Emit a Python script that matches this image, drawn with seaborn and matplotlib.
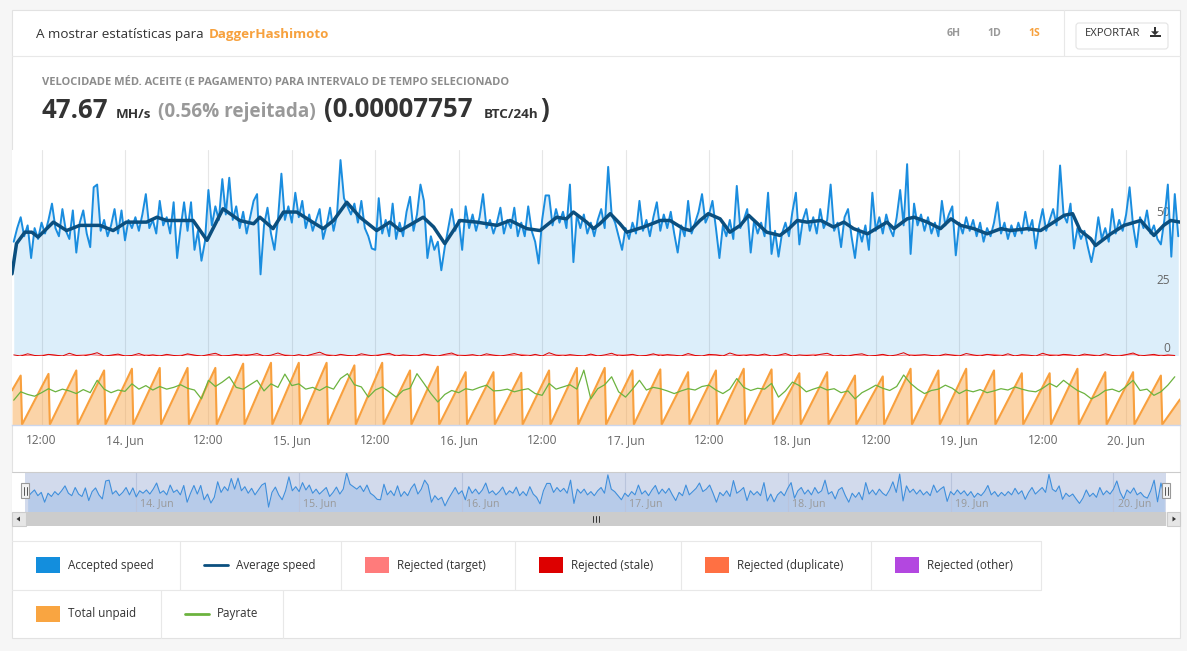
import numpy as np
import pandas as pd
import matplotlib
matplotlib.use("Agg")
import matplotlib.pyplot as plt
import seaborn as sns
from matplotlib.patches import Rectangle, FancyBboxPatch, Polygon
from matplotlib.lines import Line2D
from matplotlib.transforms import Affine2D, blended_transform_factory

# ---------------- data (hours counted from 14 Jun 00:00) ----------------
# accepted speed, MH/s, one value every 30 min starting 13 Jun 08:00
accepted_speed = [
    42, 47, 51, 44, 48, 36, 47, 43, 49, 45, 50, 56, 47, 44, 54, 46, 43, 53.5, 38, 49, 53.5, 45, 40, 62,
    63, 46, 50, 44, 48, 54, 45, 53.5, 42.5, 50, 47, 51, 46, 52, 59.5, 47, 50, 45, 57, 48, 51, 45, 56.5, 36,
    47, 56.5, 46, 56.5, 39, 46, 35, 42, 61, 48, 55, 50, 65, 52, 65.5, 50, 55, 47, 53, 45, 51, 57, 59.5, 30,
    48, 54.5, 45, 39, 50, 67, 50, 55, 49, 60, 51, 57, 47, 52, 46, 50, 54, 43, 48, 54.5, 46, 52, 72, 58,
    55, 52, 56, 49, 57, 47, 44, 39.5, 39, 58, 45, 50, 44, 56, 43, 49, 44, 53, 58.5, 46, 52, 63, 57, 36,
    44, 39, 42, 31.5, 40, 47, 54, 46, 50, 39, 55, 47, 52, 46, 51, 59.5, 47, 50, 45, 49, 54.5, 45, 50, 47,
    54.5, 44, 49, 44, 55, 46, 42, 34, 50, 59, 59, 48, 54, 49, 53, 47, 63, 34.5, 52, 47, 52, 45, 49, 44,
    50, 54, 47, 69.5, 52, 49, 44, 39, 47, 43, 49, 45, 57, 46, 50, 44, 51, 56.5, 46, 52, 47, 53, 45, 38,
    48, 44, 57, 45, 49, 53, 59.5, 49, 52, 57, 47, 36, 48, 44, 50, 43, 62.5, 47, 50, 54, 38, 50, 45, 49,
    44, 60, 37.5, 46, 36.5, 45, 49, 44, 53, 60, 41, 50, 54, 46, 51, 45, 54, 47, 50, 63, 46, 49, 40, 51,
    54, 44, 36, 47, 42, 48, 39, 60, 46, 51, 45, 52, 47, 44, 51, 61, 48, 70.5, 37.5, 56, 48, 52, 46, 51,
    45, 49, 44, 57, 48, 52, 55, 37, 49, 45, 51, 46, 50, 44, 49, 42, 47, 44, 49, 56.5, 45, 49, 43, 48,
    44, 49, 45, 53, 46, 50, 39.5, 48, 54, 46, 50, 54, 48, 70, 52, 49, 56, 39.5, 47, 43, 46, 40, 34.5, 41,
    51, 43, 47, 42, 54, 45, 50, 46, 52, 62, 48, 40, 51, 47, 53.5, 45, 48, 43, 41, 50, 63, 36.5, 59.5, 44,
]
speed_start_hour = -16

# average speed, MH/s, read at irregular hours
avg_hours = [-16.25, -15.6, -14.4, -13.4, -12.5, -10.3, -8.4, -6.5, -3.6, -1.7, 0.2, 3.1, 4.6, 6.0,
             9.8, 11.8, 14.1, 16.5, 18.5, 19.4, 21.3, 22.8, 24.7, 26.6, 28.5, 30.0, 31.9, 33.8, 36.2,
             38.1, 39.6, 42.9, 44.4, 46.0, 48.2, 50.6, 53.5, 55.4, 57.8, 59.7, 62.1, 63.5, 64.5, 66.4,
             67.4, 68.3, 69.8, 71.2, 72.2, 74.6, 77.0, 78.4, 80.3, 81.3, 82.7, 83.9, 85.6, 87.0, 88.5,
             89.7, 92.3, 94.2, 95.5, 96.7, 98.1, 100.1, 101.9, 103.4, 104.8, 106.8, 109.6, 110.6, 112.5,
             113.5, 115.4, 117.3, 118.8, 120.2, 122.1, 124.0, 126.0, 127.4, 129.8, 131.7, 133.6, 135.1,
             136.3, 137.4, 138.9, 139.6, 141.8, 143.7, 146.1, 148.0, 149.4, 150.4, 151.75]
avg_speed = [30.2, 41.3, 45.5, 45.5, 43.7, 49.2, 46.1, 48.0, 48.0, 46.1, 49.2, 49.2, 51.0, 49.8,
             49.8, 42.5, 54.1, 49.8, 48.6, 51.0, 46.8, 52.9, 52.9, 49.8, 46.8, 49.8, 56.5, 51.0, 46.1,
             49.2, 46.1, 51.0, 47.4, 41.3, 49.8, 49.2, 48.0, 49.8, 46.8, 46.1, 51.0, 50.4, 52.9, 49.2,
             46.8, 48.6, 52.3, 48.6, 45.5, 47.4, 49.8, 49.8, 46.8, 46.1, 49.8, 52.3, 50.4, 45.5, 48.0,
             51.7, 45.5, 44.3, 46.8, 49.8, 49.2, 49.8, 47.4, 49.2, 46.8, 44.9, 49.2, 46.8, 50.4,
             51.0, 49.2, 46.8, 50.4, 48.0, 46.8, 44.9, 46.8, 46.1, 46.8, 46.1, 49.2, 51.7,
             52.3, 46.1, 43.1, 40.6, 44.9, 48.0, 49.8, 44.3, 48.0, 49.8, 49.2]

# rejected (stale) hourly and rejected (target) every 2 h, MH/s
rejected_stale = [
    0.4, 0, 0.8, 0.2, 0, 0.6, 0.3, 0, 1.0, 0.2, 0, 0.5,
    1.2, 0, 0.3, 0.7, 0, 0.2, 0.9, 0, 0.4, 0, 0.6, 0.2,
    0, 0.8, 0.3, 0, 0.5, 1.0, 0, 0.2, 0.6, 0, 0.4, 0.9,
    0, 0.3, 1.1, 0.2, 0, 0.5, 0, 0.7, 1.4, 0.3, 0, 0.6,
    0.2, 0, 0.8, 0.3, 0, 0.5, 1.0, 0, 0.4, 0.2, 0, 0.7,
    0.3, 0, 0.6, 1.1, 0, 0.2, 0.5, 0, 0.8, 0.3, 0, 0.4,
    0.9, 0.2, 0, 0.6, 0, 1.2, 0.3, 0, 0.5, 0.2, 0, 0.7,
    0, 0.4, 1.0, 0, 0.3, 0.6, 0, 0.2, 0.8, 0, 0.5, 0.3,
    0, 0.9, 0.2, 0, 0.6, 0.4, 0, 1.1, 0.3, 0, 0.5, 0.2,
    0.7, 0, 0.3, 0.9, 0, 0.4, 0.2, 0, 0.6, 1.0, 0, 0.3,
    0, 0.5, 0.8, 0, 0.2, 0.6, 0, 0.4, 1.2, 0, 0.3, 0.5,
    0.2, 0, 0.7, 0.3, 0, 0.9, 0.4, 0, 0.6, 0.2, 0, 0.8,
    0, 0.5, 0.3, 0, 1.0, 0.2, 0, 0.6, 0.4, 0, 0.7, 0.3,
    0, 0.8, 0.2, 0, 0.5, 1.1, 0, 0.3, 0.6, 0, 0.4, 0.2,
]
rejected_target = [
    0.3, 0, 0.5, 0, 0.2, 0.6, 0, 0.3, 0, 0.4, 0.2, 0,
    0.5, 0, 0.3, 0, 0.6, 0.2, 0, 0.4, 0, 0.3, 0.5, 0,
    0.2, 0, 0.6, 0.3, 0, 0.4, 0, 0.5, 0.2, 0, 0.3, 0,
    0.6, 0, 0.2, 0.4, 0, 0.3, 0, 0.5, 0, 0.2, 0.6, 0,
    0.3, 0, 0.4, 0, 0.5, 0.2, 0, 0.3, 0, 0.6, 0.2, 0,
    0.4, 0, 0.3, 0, 0.5, 0, 0.2, 0.4, 0, 0.3, 0.6, 0,
    0.2, 0, 0.5, 0.3, 0, 0.4, 0, 0.2, 0.6, 0, 0.3, 0,
]

# total unpaid (satoshi): value at the left edge, peak before each 4-hourly payout, value at right edge
unpaid_start = 800
unpaid_peaks = [1150, 1190, 1270, 1270, 1310, 1330, 1330, 1330, 1430, 1450, 1450, 1450, 1390, 1450,
                1270, 1360, 1230, 1230, 1215, 1270, 1330, 1330, 1270, 1295, 1230, 1270, 1310, 1295,
                1205, 1230, 1150, 1130, 1310, 1270, 1310, 1270, 1205, 1205, 1310, 1230, 1230, 1150]
payout_hours = list(range(-15, 150, 4))
unpaid_end = 590

# payrate, uBTC/day, hourly from 13 Jun 08:00
payrate = [
    55, 74, 68, 64, 72, 81, 74, 80, 76, 70, 79, 72,
    100, 80, 72, 78, 75, 92, 80, 88, 78, 86, 80, 84,
    90, 82, 78, 58, 100, 86, 96, 108, 84, 80, 90, 100,
    76, 92, 84, 114, 88, 92, 80, 84, 77, 86, 80, 104,
    115, 90, 85, 62, 78, 85, 74, 62, 77, 82, 115, 93,
    70, 51, 68, 77, 72, 81, 78, 84, 89, 76, 77, 80,
    74, 78, 81, 70, 66, 93, 80, 85, 90, 80, 123, 58,
    81, 90, 108, 74, 62, 80, 100, 78, 84, 81, 76, 70,
    76, 81, 78, 86, 89, 78, 70, 80, 104, 84, 77, 82,
    80, 93, 62, 76, 96, 88, 74, 80, 85, 78, 81, 72,
    76, 58, 72, 80, 89, 82, 77, 86, 112, 93, 80, 70,
    77, 80, 89, 82, 70, 78, 74, 79, 72, 76, 81, 78,
    85, 80, 76, 74, 82, 93, 85, 100, 88, 77, 70, 58,
    66, 77, 80, 74, 86, 100, 77, 80, 66, 74, 89, 108,
]

x_tick_hours = [-12, 0, 12, 24, 36, 48, 60, 72, 84, 96, 108, 120, 132, 144]
x_tick_labels = ["12:00", "14. Jun", "12:00", "15. Jun", "12:00", "16. Jun", "12:00",
                 "17. Jun", "12:00", "18. Jun", "12:00", "19. Jun", "12:00", "20. Jun"]
nav_day_hours = [0, 24, 48, 72, 96, 120, 144]
nav_day_labels = ["14. Jun", "15. Jun", "16. Jun", "17. Jun", "18. Jun", "19. Jun", "20. Jun"]
y_tick_values = [0, 25, 50]

legend_names = ["Accepted speed", "Average speed", "Rejected (target)", "Rejected (stale)",
                "Rejected (duplicate)", "Rejected (other)", "Total unpaid", "Payrate"]

# ---------------- frames ----------------
speed_df = pd.DataFrame({"hour": speed_start_hour + 0.5 * np.arange(len(accepted_speed)),
                         "speed": accepted_speed})
avg_df = pd.DataFrame({"hour": avg_hours, "speed": avg_speed})
stale_df = pd.DataFrame({"hour": speed_start_hour + np.arange(len(rejected_stale)),
                         "speed": rejected_stale})
target_df = pd.DataFrame({"hour": speed_start_hour + 1 + 2 * np.arange(len(rejected_target)),
                          "speed": rejected_target})
pay_df = pd.DataFrame({"hour": speed_start_hour + np.arange(len(payrate)), "rate": payrate})

x_start, x_end = -16.25, 151.75
u_h, u_v = [x_start], [unpaid_start]
for h, p in zip(payout_hours, unpaid_peaks):
    u_h += [h, h + 0.2]
    u_v += [p, 0]
u_h.append(x_end)
u_v.append(unpaid_end)
unpaid_df = pd.DataFrame({"hour": u_h, "sat": u_v})

# ---------------- styling ----------------
BLUE = "#1a8ddf"
DARK = "#0b4f7f"
ORANGE = "#f8a03e"
GREEN = "#6cb33f"
GRID = "#e6e6e6"
legend_colors = ["#138edd", DARK, "#ff7b7b", "#dd0000", "#ff7043", "#b347e0", "#f9a541", GREEN]
legend_kinds = ["box", "line", "box", "box", "box", "box", "box", "line"]
legend_pos = [(36, 565), (204, 565), (365, 565), (539, 565), (705, 565), (895, 565), (36, 614), (185, 614)]

sns.set_style("white")
plt.rcParams["font.family"] = ["Open Sans", "DejaVu Sans"]

W, H = 1187, 651
fig = plt.figure(figsize=(W / 100, H / 100), dpi=100)
fig.patch.set_facecolor("#f6f6f6")
pix = Affine2D().scale(1 / W, -1 / H).translate(0, 1) + fig.transFigure


def px_rect(x0, y0, x1, y1):
    return [x0 / W, 1 - y1 / H, (x1 - x0) / W, (y1 - y0) / H]


def hline(x0, x1, y, color="#e8e8e8", lw=0.8):
    fig.add_artist(Line2D([x0, x1], [y, y], transform=pix, color=color, lw=lw))


def vline(x, y0, y1, color="#e8e8e8", lw=0.8):
    fig.add_artist(Line2D([x, x], [y0, y1], transform=pix, color=color, lw=lw))


# card
fig.add_artist(Rectangle((11.5, 9.5), 1168.5, 628.5, transform=pix, fc="white",
                         ec="#e2e2e2", lw=0.8, zorder=-5))
hline(11.5, 1180, 55.5)
vline(1063.5, 9.5, 55.5)

# header
fig.text(36, 38, "A mostrar estatísticas para", transform=pix, fontsize=9.7, color="#333333", va="baseline")
fig.text(208.5, 38, "DaggerHashimoto", transform=pix, fontsize=9.6, color="#f7a13d",
         fontweight="bold", va="baseline")
for label, xc, col in [("6H", 954, "#999999"), ("1D", 994, "#999999"), ("1S", 1034, "#f7a13d")]:
    fig.text(xc, 33, label, transform=pix, fontsize=7.6, color=col, fontweight="bold",
             ha="center", va="center")
fig.add_artist(FancyBboxPatch((1076, 23), 92, 26, boxstyle="round,pad=0,rounding_size=3",
                              transform=pix, fc="white", ec="#e4e4e4", lw=0.8))
fig.text(1085, 33, "EXPORTAR", transform=pix, fontsize=8.1, color="#333333", va="center")
fig.add_artist(Rectangle((1153.6, 27), 2.8, 4.5, transform=pix, fc="#333333", lw=0))
fig.add_artist(Polygon([(1151, 31.3), (1159, 31.3), (1155, 35.3)], transform=pix, fc="#333333", lw=0))
fig.add_artist(Rectangle((1149.6, 35), 11, 2.4, transform=pix, fc="#333333", lw=0))

# summary line
fig.text(42, 84.5, "VELOCIDADE MÉD. ACEITE (E PAGAMENTO) PARA INTERVALO DE TEMPO SELECIONADO",
         transform=pix, fontsize=8.0, color="#8c8c8c", fontweight="bold", va="baseline")
summary_runs = [
    (42, "47.67", 18.5, "#333333"),
    (116, "MH/s", 9.7, "#333333"),
    (157.5, "(0.56% rejeitada)", 13.6, "#999999"),
    (324, "(0.00007757", 18.5, "#333333"),
    (484, "BTC/24h", 9.7, "#333333"),
    (540.5, ")", 18.5, "#333333"),
]
for x, s, fs, col in summary_runs:
    fig.text(x, 117.5, s, transform=pix, fontsize=fs, color=col, fontweight="bold", va="baseline")

# ---------------- main speed panel ----------------
ax_main = fig.add_axes(px_rect(12, 150, 1180, 356))
ax_main.set_xlim(x_start, x_end)
ax_main.set_ylim(0, 75.7)
ax_main.fill_between(speed_df["hour"], 0, speed_df["speed"], color=BLUE, alpha=0.15, lw=0, zorder=1)
sns.lineplot(data=target_df, x="hour", y="speed", ax=ax_main, color="#ff7b7b", lw=0.8,
             estimator=None, zorder=2)
sns.lineplot(data=stale_df, x="hour", y="speed", ax=ax_main, color="#dd0000", lw=0.7,
             estimator=None, zorder=2)
sns.lineplot(data=speed_df, x="hour", y="speed", ax=ax_main, color=BLUE, lw=1.4,
             estimator=None, zorder=3, solid_joinstyle="round")
sns.lineplot(data=avg_df, x="hour", y="speed", ax=ax_main, color=DARK, lw=2.5,
             estimator=None, zorder=4, solid_joinstyle="round", solid_capstyle="round")
ax_main.set_xticks(x_tick_hours)
ax_main.set_yticks([])
ax_main.tick_params(axis="x", length=0, labelbottom=False)
ax_main.grid(axis="x", color=GRID, lw=0.8)
ax_main.set_axisbelow(True)
ax_main.set_xlabel("")
ax_main.set_ylabel("")
for sp in ax_main.spines.values():
    sp.set_visible(False)
for v in y_tick_values:
    ax_main.annotate(str(v), xy=(1, v), xycoords=("axes fraction", "data"), xytext=(-10, 7),
                     textcoords="offset pixels", ha="right", va="center", fontsize=8.6,
                     color="#666666", zorder=2.5)

# ---------------- unpaid / payrate panel ----------------
ax_bot = fig.add_axes(px_rect(12, 356, 1180, 424.5))
ax_bot.set_xlim(x_start, x_end)
ax_bot.set_ylim(0, 1610)
ax_bot.fill_between(unpaid_df["hour"], 0, unpaid_df["sat"], color=ORANGE, alpha=0.45, lw=0, zorder=1)
sns.lineplot(data=unpaid_df, x="hour", y="sat", ax=ax_bot, color=ORANGE, lw=1.5,
             estimator=None, zorder=2)
ax_bot.set_xticks(x_tick_hours, x_tick_labels)
ax_bot.set_yticks([])
ax_bot.tick_params(axis="x", length=6, width=0.8, color="#ccd6eb", labelcolor="#666666",
                   labelsize=8.6, pad=1)
ax_bot.grid(axis="x", color=GRID, lw=0.8)
ax_bot.set_axisbelow(True)
ax_bot.set_xlabel("")
ax_bot.set_ylabel("")
for name, sp in ax_bot.spines.items():
    sp.set_visible(name == "bottom")
ax_bot.spines["bottom"].set_color("#ccd6eb")
ax_bot.spines["bottom"].set_linewidth(1)

ax_pay = ax_bot.twinx()
ax_pay.set_ylim(0, 155)
sns.lineplot(data=pay_df, x="hour", y="rate", ax=ax_pay, color=GREEN, lw=0.9, estimator=None)
ax_pay.set_xlim(x_start, x_end)
ax_pay.set_yticks([])
ax_pay.set_ylabel("")
ax_pay.grid(False)
for sp in ax_pay.spines.values():
    sp.set_visible(False)

# ---------------- navigator ----------------
ax_nav = fig.add_axes(px_rect(12, 472, 1180, 512))
ax_nav.set_xlim(-18.31, 153.81)
ax_nav.set_ylim(24, 73)
ax_nav.axvspan(-16.45, 151.75, color="#d2daec", lw=0, zorder=0)
ax_nav.fill_between(speed_df["hour"], 24, speed_df["speed"], color="#b7cbe9", lw=0, zorder=1)
sns.lineplot(data=speed_df, x="hour", y="speed", ax=ax_nav, color="#3f8fdc", lw=0.8,
             estimator=None, zorder=3)
nav_tr = blended_transform_factory(ax_nav.transData, ax_nav.transAxes)
for h, lab in zip(nav_day_hours, nav_day_labels):
    ax_nav.axvline(h, color="#b9c4dc", lw=0.8, zorder=2)
    ax_nav.text(h + 0.6, 0.22, lab, transform=nav_tr, fontsize=7.6, color="#999999",
                va="center", ha="left", zorder=2)
ax_nav.set_xticks([])
ax_nav.set_yticks([])
ax_nav.set_xlabel("")
ax_nav.set_ylabel("")
for sp in ax_nav.spines.values():
    sp.set_visible(False)
hline(12, 1180, 472, color="#cccccc", lw=0.8)

# navigator handles
for hx in (25, 1166):
    fig.add_artist(Rectangle((hx - 4, 483), 8, 15, transform=pix, fc="#f2f2f2", ec="#999999",
                             lw=0.8, zorder=6))
    for dx in (-1.5, 1.5):
        fig.add_artist(Line2D([hx + dx, hx + dx], [486.5, 494.5], transform=pix,
                              color="#555555", lw=0.7, zorder=7))

# scrollbar
fig.add_artist(Rectangle((12, 512), 1168, 14, transform=pix, fc="#f2f2f2", lw=0))
fig.add_artist(Rectangle((25, 512), 1141, 14, transform=pix, fc="#cccccc", lw=0))
for bx in (12, 1166.5):
    fig.add_artist(Rectangle((bx, 512), 13.5, 14, transform=pix, fc="#e6e6e6", ec="#cccccc", lw=0.8))
fig.add_artist(Polygon([(16.5, 519), (20, 516.5), (20, 521.5)], transform=pix, fc="#333333", lw=0))
fig.add_artist(Polygon([(1176, 519), (1172.5, 516.5), (1172.5, 521.5)], transform=pix, fc="#333333", lw=0))
for gx in (592.5, 595.5, 598.5):
    fig.add_artist(Line2D([gx, gx], [516, 522], transform=pix, color="#333333", lw=0.7))

# ---------------- legend grid ----------------
hline(11.5, 1041, 540.5)
hline(11.5, 1041, 589.5)
for x in (179.5, 340.5, 514.5, 680.5, 870.5, 1040.5):
    vline(x, 540.5, 589.5)
for x in (160.5, 282.5):
    vline(x, 589.5, 638)
for name, col, kind, (lx, ly) in zip(legend_names, legend_colors, legend_kinds, legend_pos):
    if kind == "box":
        fig.add_artist(Rectangle((lx, ly - 8), 24, 16, transform=pix, fc=col, lw=0))
    else:
        fig.add_artist(Line2D([lx, lx + 24], [ly, ly], transform=pix, color=col, lw=2))
    fig.text(lx + 32, ly, name, transform=pix, fontsize=8.4, color="#333333", va="center")

fig.savefig("out.png", dpi=100, facecolor=fig.get_facecolor())
